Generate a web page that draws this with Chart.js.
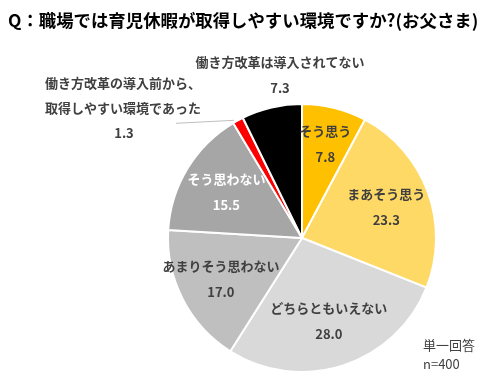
<!DOCTYPE html>
<html>
<head>
<meta charset="utf-8">
<script src="https://cdn.jsdelivr.net/npm/chart.js@4"></script>
<style>
  html, body { margin: 0; padding: 0; background: #fff; }
  #wrap { position: relative; width: 500px; height: 388px; }
</style>
</head>
<body>
<div id="wrap"><canvas id="pieChart" width="500" height="388"></canvas></div>
<script>
// === DATA ===
const TITLE = "Q：職場では育児休暇が取得しやすい環境ですか?(お父さま)";
const labels = ["そう思う", "まあそう思う", "どちらともいえない", "あまりそう思わない", "そう思わない",
                "働き方改革の導入前から、取得しやすい環境であった", "働き方改革は導入されてない"];
const values = [7.8, 23.3, 28.0, 17.0, 15.5, 1.3, 7.3];
const colors = ["#FFC000", "#FFD966", "#D9D9D9", "#BFBFBF", "#A6A6A6", "#FF0000", "#000000"];
const NOTE = ["単一回答", "n=400"];

const FONT = '"Noto Sans CJK JP", "Noto Sans", sans-serif';
const TXT = "#404040";

// inside label: radius factor along the slice mid angle, text colour
const inside = [
    { r: 0.72, color: TXT },
    { r: 0.67, color: TXT },
    { r: 0.65, color: TXT },
    { r: 0.68, color: TXT },
    { r: 0.66, color: "#fff" }
];

// === PLUGIN: labels, title, note ===
const labelPlugin = {
    id: 'labelPlugin',
    afterDraw(chart) {
        const c = chart.ctx;
        const arcs = chart.getDatasetMeta(0).data;
        c.save();
        c.textBaseline = "middle";

        // title
        c.font = "bold 17.4px " + FONT;
        c.fillStyle = "#000";
        c.textAlign = "left";
        c.fillText(TITLE, 8, 20);

        // inside labels
        c.font = "bold 13px " + FONT;
        c.textAlign = "center";
        inside.forEach((o, i) => {
            const a = arcs[i];
            const mid = (a.startAngle + a.endAngle) / 2;
            const x = a.x + Math.cos(mid) * a.outerRadius * o.r;
            const y = a.y + Math.sin(mid) * a.outerRadius * o.r;
            c.fillStyle = o.color;
            c.fillText(labels[i], x, y - 13);
            c.fillText(values[i].toFixed(1), x, y + 13);
        });

        // black slice label (above the pie)
        const blk = arcs[6];
        const bx = blk.x - 22;
        const by = blk.y - blk.outerRadius;
        c.fillStyle = TXT;
        c.fillText(labels[6], bx, by - 42);
        c.fillText(values[6].toFixed(1), bx, by - 16);

        // red slice label with leader line
        const red = arcs[5];
        const rm = (red.startAngle + red.endAngle) / 2;
        const ex = red.x + Math.cos(rm) * red.outerRadius;
        const ey = red.y + Math.sin(rm) * red.outerRadius;
        c.strokeStyle = "#BFBFBF";
        c.lineWidth = 1;
        c.beginPath();
        c.moveTo(ex - 4, ey);
        c.lineTo(ex - 62, ey + 3);
        c.stroke();
        const parts = labels[5].split("、");
        c.textAlign = "left";
        c.fillText(parts[0] + "、", 45, 83);
        c.fillText(parts[1], 45, 108);
        c.textAlign = "center";
        c.fillText(values[5].toFixed(1), 124, 133);

        // note
        c.font = "13px " + FONT;
        c.textAlign = "left";
        c.fillText(NOTE[0], 423, 345);
        c.fillText(NOTE[1], 423, 364);
        c.restore();
    }
};

// === CHART ===
const ctx = document.getElementById('pieChart').getContext('2d');
const pieChart = new Chart(ctx, {
    type: 'pie',
    data: {
        labels: labels,
        datasets: [{
            data: values,
            backgroundColor: colors,
            borderColor: '#fff',
            borderWidth: 2
        }]
    },
    options: {
        responsive: false,
        animation: false,
        layout: { padding: { top: 102, bottom: 14, left: 167, right: 63 } },
        plugins: {
            legend: { display: false },
            tooltip: { enabled: false },
            title: { display: false }
        }
    },
    plugins: [labelPlugin]
});
</script>
</body>
</html>
